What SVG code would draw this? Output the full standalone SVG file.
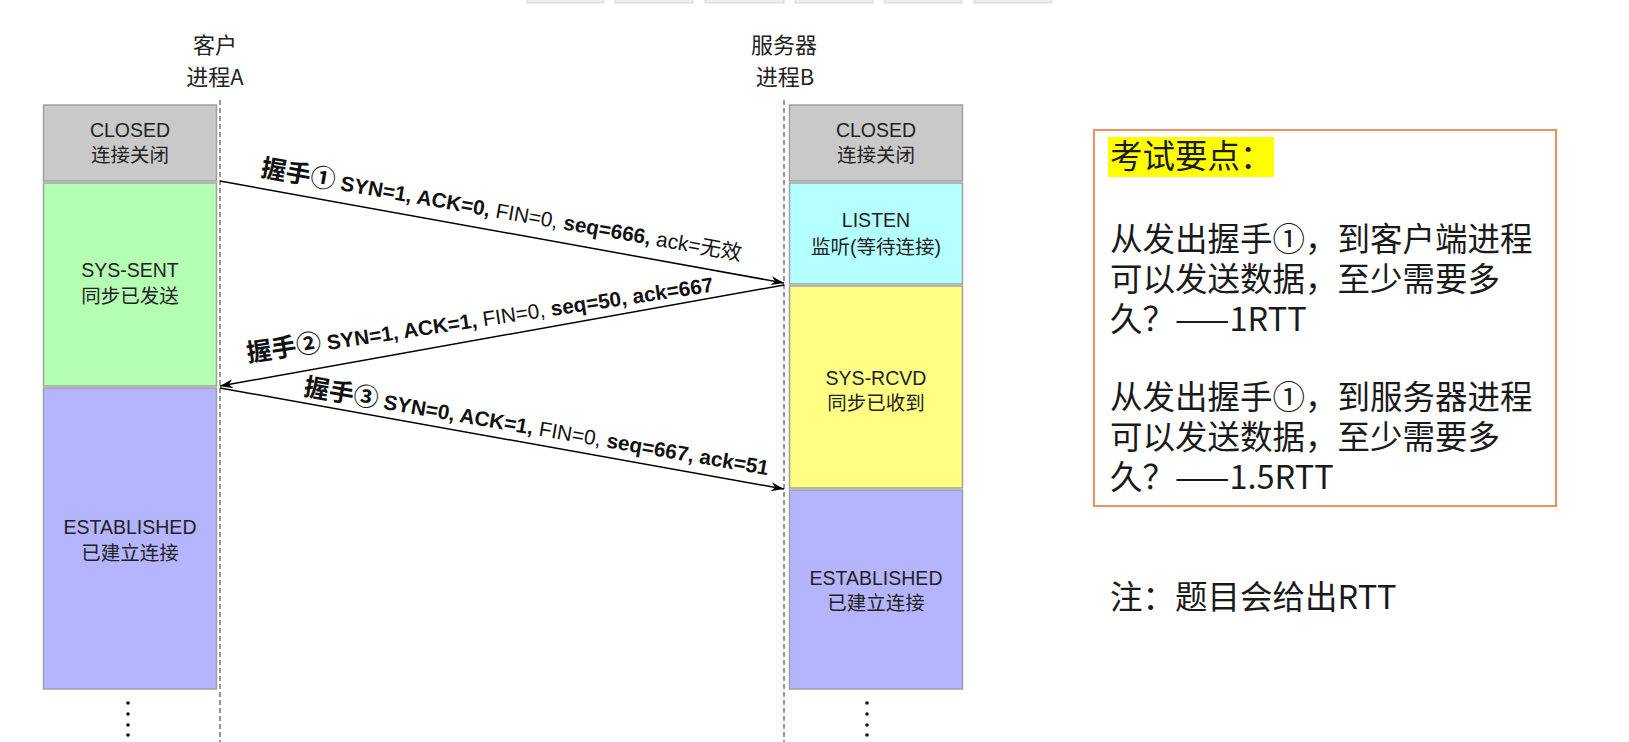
<svg xmlns="http://www.w3.org/2000/svg" width="1629" height="742" viewBox="0 0 1629 742">
<defs>
<style>
.lifeline{stroke:#777;stroke-width:1.5;stroke-dasharray:5 3;fill:none}
.blk{stroke:#a0a0a0;stroke-width:1.5}
.closed{fill:#c9c9c9}
.sent{fill:#b4ffb4}
.est{fill:#b4b4ff}
.listen{fill:#b4ffff}
.rcvd{fill:#ffff84}
.bt{font-family:"Liberation Sans","Noto Sans CJK SC",sans-serif;font-size:19.5px;fill:#222;text-anchor:middle}
.hdr{font-family:"Noto Sans CJK SC",sans-serif;font-size:22px;fill:#222;text-anchor:middle}
.msg{stroke:#000;stroke-width:1.5;fill:none;marker-end:url(#arr)}
.lbl{font-family:"Liberation Sans","Noto Sans CJK SC",sans-serif;font-size:20.8px;fill:#111}
.hs{font-family:"Noto Sans CJK SC",sans-serif;font-size:25px;font-weight:bold}
.b{font-weight:bold}
.panel{font-family:"Noto Sans CJK SC",sans-serif;font-size:32.5px;fill:#1a1a1a}
.dot{fill:#111}
.tab{fill:#ececec;stroke:#d8d8d8;stroke-width:1}
</style>
<marker id="arr" markerUnits="userSpaceOnUse" markerWidth="14" markerHeight="10" refX="13" refY="5" orient="auto">
<path d="M0,0.5 L13,5 L0,9.5 L4,5 z" fill="#000"/>
</marker>
</defs>
<rect width="1629" height="742" fill="#fff"/>
<g id="topbar">
<rect class="tab" x="527" y="-3" width="77" height="6"/>
<rect class="tab" x="615" y="-3" width="78" height="6"/>
<rect class="tab" x="705" y="-3" width="79" height="6"/>
<rect class="tab" x="795" y="-3" width="78" height="6"/>
<rect class="tab" x="884" y="-3" width="78" height="6"/>
<rect class="tab" x="974" y="-3" width="78" height="6"/>
</g>
<g id="client-header">
<text class="hdr" x="215" y="53">客户</text>
<text class="hdr" x="215" y="85">进程A</text>
</g>
<g id="server-header">
<text class="hdr" x="784" y="53">服务器</text>
<text class="hdr" x="785" y="85">进程B</text>
</g>
<g id="client-closed">
<rect class="blk closed" x="43.5" y="105" width="173" height="76"/>
<text class="bt" x="130" y="137">CLOSED</text>
<text class="bt" x="130" y="162">连接关闭</text>
</g>
<g id="client-sent">
<rect class="blk sent" x="43.5" y="183" width="173" height="203"/>
<text class="bt" x="130" y="277">SYS-SENT</text>
<text class="bt" x="130" y="303">同步已发送</text>
</g>
<g id="client-established">
<rect class="blk est" x="43.5" y="388" width="173" height="301"/>
<text class="bt" x="130" y="534">ESTABLISHED</text>
<text class="bt" x="130" y="560">已建立连接</text>
<circle class="dot" cx="128" cy="703" r="1.8"/>
<circle class="dot" cx="128" cy="714" r="1.8"/>
<circle class="dot" cx="128" cy="725" r="1.8"/>
<circle class="dot" cx="128" cy="735" r="1.8"/>
</g>
<g id="server-closed">
<rect class="blk closed" x="789.5" y="105" width="173" height="76"/>
<text class="bt" x="876" y="137">CLOSED</text>
<text class="bt" x="876" y="162">连接关闭</text>
</g>
<g id="server-listen">
<rect class="blk listen" x="789.5" y="183" width="173" height="101"/>
<text class="bt" x="876" y="227">LISTEN</text>
<text class="bt" x="876" y="254">监听(等待连接)</text>
</g>
<g id="server-rcvd">
<rect class="blk rcvd" x="789.5" y="286" width="173" height="202"/>
<text class="bt" x="876" y="385">SYS-RCVD</text>
<text class="bt" x="876" y="410">同步已收到</text>
</g>
<g id="server-established">
<rect class="blk est" x="789.5" y="490" width="173" height="199"/>
<text class="bt" x="876" y="585">ESTABLISHED</text>
<text class="bt" x="876" y="610">已建立连接</text>
<circle class="dot" cx="867" cy="703" r="1.8"/>
<circle class="dot" cx="867" cy="714" r="1.8"/>
<circle class="dot" cx="867" cy="725" r="1.8"/>
<circle class="dot" cx="867" cy="735" r="1.8"/>
</g>
<g id="connectors">
<line class="lifeline" x1="220" y1="100" x2="220" y2="742"/>
<line class="lifeline" x1="784" y1="100" x2="784" y2="742"/>
<line class="msg" x1="220" y1="181" x2="784" y2="283"/>
<line class="msg" x1="784" y1="285" x2="220" y2="386"/>
<line class="msg" x1="220" y1="388" x2="784" y2="489"/>
<text class="lbl" transform="translate(260,176) rotate(10)"><tspan class="hs">握手①</tspan><tspan class="b"> SYN=1, ACK=0,</tspan><tspan> FIN=0,</tspan><tspan class="b"> seq=666,</tspan><tspan> ack=无效</tspan></text>
<text class="lbl" transform="translate(248,362) rotate(-8.6)"><tspan class="hs">握手②</tspan><tspan class="b"> SYN=1, ACK=1,</tspan><tspan> FIN=0,</tspan><tspan class="b"> seq=50, ack=667</tspan></text>
<text class="lbl" transform="translate(303,395) rotate(9.8)"><tspan class="hs">握手③</tspan><tspan class="b"> SYN=0, ACK=1,</tspan><tspan> FIN=0,</tspan><tspan class="b"> seq=667, ack=51</tspan></text>
</g>
<g id="exam-points">
<rect x="1094" y="130" width="462" height="376" fill="none" stroke="#ee9060" stroke-width="2"/>
<rect x="1108" y="137" width="166" height="40" fill="#ffff00"/>
<text class="panel" x="1110" y="168" font-size="32">考试要点：</text>
<text class="panel" x="1110" y="251">从发出握手①，到客户端进程</text>
<text class="panel" x="1110" y="291">可以发送数据，至少需要多</text>
<text class="panel" x="1110" y="331">久？——1RTT</text>
<text class="panel" x="1110" y="409">从发出握手①，到服务器进程</text>
<text class="panel" x="1110" y="449">可以发送数据，至少需要多</text>
<text class="panel" x="1110" y="489">久？——1.5RTT</text>
</g>
<g id="note">
<text class="panel" x="1110" y="609">注：题目会给出RTT</text>
</g>
</svg>
